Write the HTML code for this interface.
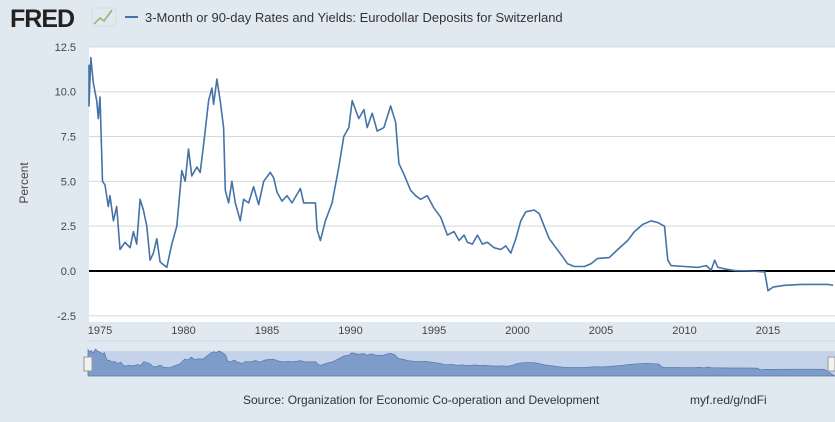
<!DOCTYPE html>
<html><head><meta charset="utf-8"><style>
body{margin:0;width:835px;height:417px;background:#e1e9f0;font-family:"Liberation Sans",sans-serif;overflow:hidden}
</style></head><body>
<svg id="s" width="835" height="417" xmlns="http://www.w3.org/2000/svg" font-family="Liberation Sans, sans-serif">
<text x="10" y="27" font-size="25" font-weight="bold" fill="#222" letter-spacing="-1">FRED</text>
<polyline points="94,24 100,18 104,21 112,10" fill="none" stroke="#8fb36a" stroke-width="1.5"/>
<rect x="92" y="8" width="24" height="18" fill="none" stroke="#ccc" stroke-width="0.5"/>
<line x1="125" y1="17" x2="138" y2="17" stroke="#4572a7" stroke-width="2"/>
<text x="145" y="22" font-size="13" fill="#333">3-Month or 90-day Rates and Yields: Eurodollar Deposits for Switzerland</text>
<rect x="89" y="47" width="746" height="275" fill="#fff"/>
<g id="grid" stroke="#d8d8d8" stroke-width="1"></g>
<g id="yl" font-size="11" fill="#444" text-anchor="end"></g>
<text transform="translate(28,183) rotate(-90)" font-size="12" fill="#444" text-anchor="middle">Percent</text>
<line x1="89" y1="271" x2="835" y2="271" stroke="#000" stroke-width="2"/>
<path id="p" fill="none" stroke="#4572a7" stroke-width="1.6" stroke-linejoin="round"/>
<g id="xl" font-size="11" fill="#444" text-anchor="middle"></g>
<line x1="89" y1="341" x2="835" y2="341" stroke="#ccd6eb"/>
<rect x="88" y="351" width="747" height="25" fill="#c5d3ea"/>
<path id="nav" fill="#7d9cc9" stroke="#5577aa" stroke-width="0.7"/>
<rect x="84" y="357" width="8" height="14" fill="#f2f2f2" stroke="#999"/>
<rect x="828" y="357" width="7" height="14" fill="#f2f2f2" stroke="#999"/>
<text x="243" y="404" font-size="12" fill="#333">Source: Organization for Economic Co-operation and Development</text>
<text x="690" y="404" font-size="12" fill="#333">myf.red/g/ndFi</text>
</svg>
<script>
var d=[1974.0,11.5,1974.1,10,1974.2,11,1974.3,9.2,1974.45,11.9,1974.6,10.5,1974.8,9.5,1974.9,8.5,1975.0,9.7,1975.15,5,1975.3,4.8,1975.5,3.6,1975.6,4.2,1975.8,2.8,1976.0,3.6,1976.2,1.2,1976.5,1.6,1976.8,1.3,1977.0,2.2,1977.2,1.5,1977.4,4,1977.6,3.4,1977.8,2.5,1978.0,0.6,1978.2,1,1978.4,1.8,1978.6,0.5,1979.0,0.2,1979.3,1.5,1979.6,2.5,1979.9,5.6,1980.1,5,1980.3,6.8,1980.5,5.3,1980.8,5.8,1981.0,5.5,1981.2,7,1981.5,9.5,1981.7,10.2,1981.8,9.3,1982.0,10.7,1982.2,9.5,1982.4,8,1982.5,4.5,1982.7,3.8,1982.9,5,1983.1,3.8,1983.4,2.8,1983.6,4,1983.9,3.8,1984.2,4.7,1984.5,3.7,1984.8,5,1985.2,5.5,1985.4,5.2,1985.6,4.4,1985.9,3.9,1986.2,4.2,1986.5,3.8,1987.0,4.6,1987.2,3.8,1987.5,3.8,1987.9,3.8,1988.0,2.3,1988.2,1.7,1988.5,2.8,1988.9,3.8,1989.3,5.8,1989.6,7.5,1989.9,8.0,1990.1,9.5,1990.3,9.0,1990.5,8.5,1990.8,9.0,1991.0,8.0,1991.3,8.8,1991.6,7.8,1992.0,8.0,1992.4,9.2,1992.7,8.3,1992.9,6.0,1993.2,5.4,1993.6,4.5,1993.9,4.2,1994.2,4.0,1994.6,4.2,1995.0,3.5,1995.4,3.0,1995.8,2.0,1996.2,2.2,1996.5,1.7,1996.8,2.0,1997.0,1.6,1997.3,1.5,1997.6,2.0,1997.9,1.5,1998.2,1.6,1998.6,1.3,1999.0,1.2,1999.3,1.4,1999.6,1.0,1999.9,1.8,2000.2,2.8,2000.5,3.3,2001.0,3.4,2001.3,3.2,2001.6,2.5,2001.9,1.8,2002.3,1.3,2002.7,0.8,2003.0,0.4,2003.4,0.25,2004.0,0.25,2004.4,0.4,2004.8,0.7,2005.5,0.75,2006.0,1.2,2006.6,1.7,2007.0,2.2,2007.5,2.6,2008.0,2.8,2008.4,2.7,2008.8,2.5,2009.0,0.6,2009.2,0.3,2010.0,0.25,2010.8,0.2,2011.3,0.3,2011.6,0.05,2011.8,0.6,2012.0,0.2,2012.5,0.1,2013.0,0.02,2014.0,0.0,2014.8,-0.05,2015.0,-1.1,2015.3,-0.9,2016,-0.8,2017,-0.75,2018,-0.75,2018.6,-0.75,2018.9,-0.8];
function X(y){return 100+(y-1975)*16.7}function Y(v){return 271-v*17.93}
var s="",n="M88,376";
for(var i=0;i<d.length;i+=2){var x=Math.max(89,X(d[i]));s+=(i?"L":"M")+x.toFixed(1)+","+Y(d[i+1]).toFixed(1);
n+="L"+(88+(d[i]-1974)*16.4).toFixed(1)+","+(372-(d[i+1]+2.5)*1.6).toFixed(1);}
n+="L835,376Z";
document.getElementById("p").setAttribute("d",s);document.getElementById("nav").setAttribute("d",n);
var g="",yl="";for(var v=-2.5;v<=12.5;v+=2.5){var yy=Y(v);if(v!=0)g+='<line x1="89" x2="835" y1="'+yy+'" y2="'+yy+'"/>';yl+='<text x="76" y="'+(yy+4)+'">'+v.toFixed(1)+'</text>';}
document.getElementById("grid").innerHTML=g;document.getElementById("yl").innerHTML=yl;
var xl="";for(var y=1975;y<=2015;y+=5)xl+='<text x="'+X(y)+'" y="334">'+y+'</text>';document.getElementById("xl").innerHTML=xl;
</script>
</body></html>
